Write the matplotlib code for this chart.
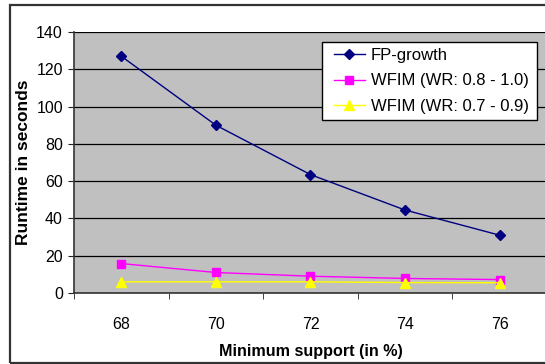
import numpy as np
import matplotlib
matplotlib.use("Agg")
import matplotlib.pyplot as plt
from matplotlib.patches import Rectangle
from matplotlib.lines import Line2D
from matplotlib.legend_handler import HandlerLine2D

support = ["68", "70", "72", "74", "76"]
fp_growth = [127, 90, 63.5, 44.5, 31]
wfim_08_10 = [15.8, 11.0, 9.0, 7.8, 7.2]
wfim_07_09 = [6.0, 6.0, 6.0, 5.6, 5.5]

plt.rcParams['font.family'] = ['Liberation Sans', 'DejaVu Sans']

W, H = 545, 364
fig = plt.figure(figsize=(W / 100, H / 100), dpi=100)

# outer chart frame
fig.patches.append(Rectangle((10 / W, 1.5 / H), 1.2, (359 - 1.5) / H,
                             transform=fig.transFigure, fill=False,
                             edgecolor='#333333', linewidth=1.6))

left, right, top, bottom = 74, 547, 32, 293
ax = fig.add_axes([left / W, (H - bottom) / H, (right - left) / W, (bottom - top) / H])
ax.set_facecolor('#C0C0C0')

x = np.arange(len(support))
ax.plot(x, fp_growth, color='#000080', marker='D', markersize=5.5, linewidth=1, label='FP-growth')
ax.plot(x, wfim_08_10, color='#FF00FF', marker='s', markersize=5.5, linewidth=1, label='WFIM (WR: 0.8 - 1.0)')
ax.plot(x, wfim_07_09, color='#FFFF00', marker='^', markersize=6.5, linewidth=1, label='WFIM (WR: 0.7 - 0.9)')

ax.set_xlim(-0.5, len(support) - 0.5)
ax.set_ylim(0, 140)
ax.set_yticks(range(0, 141, 20))
ax.yaxis.grid(True, color='black', linewidth=0.9)
ax.set_axisbelow(True)

ax.set_xticks(x)
ax.set_xticklabels(support)
ax.set_xticks(np.arange(-0.5, len(support)), minor=True)
ax.tick_params(axis='x', which='major', length=0, pad=17, labelsize=11.5)
ax.tick_params(axis='x', which='minor', length=4, direction='out', color='#222222')
ax.tick_params(axis='y', length=4, direction='out', pad=4, labelsize=11.5, color='#222222')

for side in ['top', 'right']:
    ax.spines[side].set_visible(False)
for side in ['left', 'bottom']:
    ax.spines[side].set_color('#333333')
    ax.spines[side].set_linewidth(1.2)

ax.set_xlabel('Minimum support (in %)', fontsize=11.6, fontweight='bold', labelpad=9)
ax.set_ylabel('Runtime in seconds', fontsize=12.5, fontweight='bold', labelpad=4)

# legend box spanning a fixed width, handles inset a little from the frame
leg = fig.legend(loc='upper left',
                 bbox_to_anchor=(321.7 / W, 1 - 119 / H, 215 / W, 77.3 / H),
                 mode='expand', borderaxespad=0, fancybox=False,
                 edgecolor='black', framealpha=1, fontsize=12,
                 handlelength=2.23, handletextpad=0.36, labelspacing=0.65,
                 borderpad=0.35,
                 handler_map={Line2D: HandlerLine2D(xpad=0.37)})
leg.get_frame().set_linewidth(1)

fig.savefig('out.png', dpi=100)
